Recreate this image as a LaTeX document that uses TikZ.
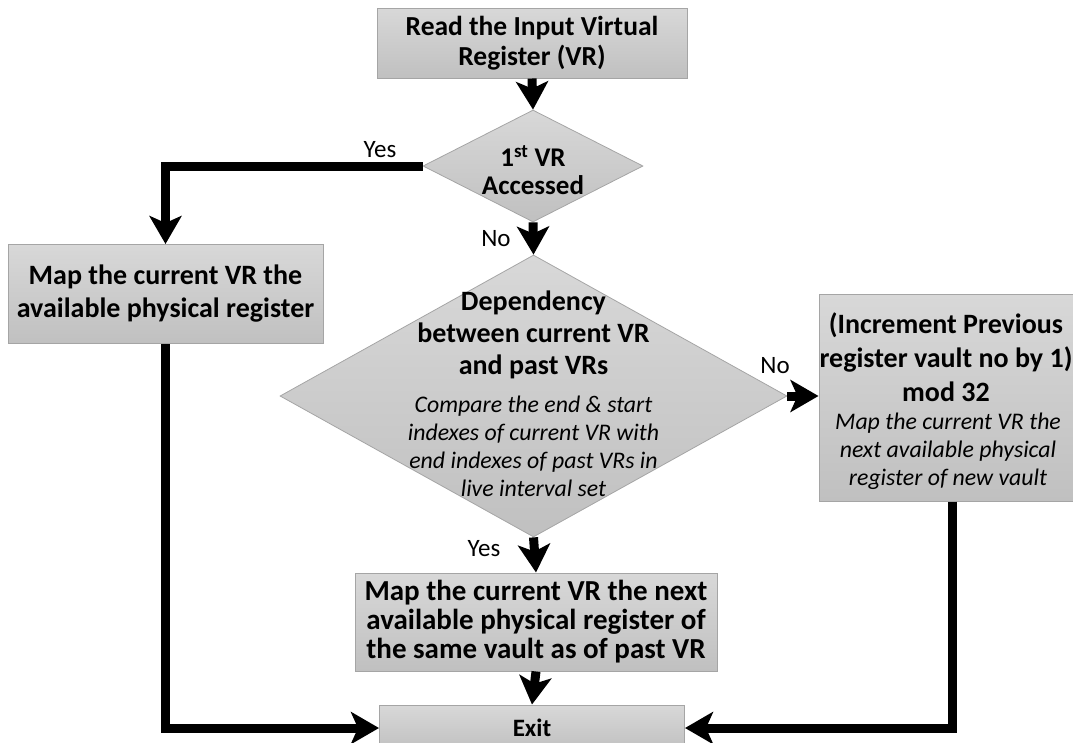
\documentclass[tikz,border=0pt]{standalone}
\usepackage{fontspec}
\setmainfont{Carlito}
\usetikzlibrary{arrows.meta,shapes.geometric}
\definecolor{boxtop}{RGB}{216,216,216}
\definecolor{boxbot}{RGB}{192,192,192}
\definecolor{boxline}{RGB}{165,165,165}
\tikzset{
  box/.style={rectangle, draw=boxline, line width=1pt, top color=boxtop, bottom color=boxbot,
    inner sep=0pt, align=center},
  dia/.style={diamond, draw=boxline, line width=0.8pt, top color=boxtop, bottom color=boxbot,
    inner sep=0pt, aspect=1},
  txt/.style={inner sep=0pt, align=center},
  lbl/.style={inner sep=0pt, font=\fontsize{25}{28}\selectfont},
  arr/.style={line width=9pt, -{Stealth[length=28pt,width=32pt,inset=7pt]}},
  bftop/.style={font=\fontsize{27.5}{30}\selectfont\bfseries},
  bfmid/.style={font=\fontsize{29}{29}\selectfont\bfseries},
  bfexit/.style={font=\fontsize{25}{29}\selectfont\bfseries},
  bfb/.style={font=\fontsize{28}{33}\selectfont\bfseries},
  bfdi/.style={font=\fontsize{27}{28}\selectfont\bfseries},
  bfc/.style={font=\fontsize{28}{32}\selectfont\bfseries},
  bfd/.style={font=\fontsize{28}{34}\selectfont\bfseries},
  itx/.style={font=\fontsize{23.8}{28}\selectfont\itshape},
}
\begin{document}
\begin{tikzpicture}[x=1pt,y=-1pt]
\useasboundingbox (0,0) rectangle (1073,742);
\clip (0,0) rectangle (1073,742);
% nodes
\node[box, bftop, minimum width=310pt, minimum height=70pt] (read) at (532,43)
  {Read the Input Virtual\\Register (VR)};
\node[dia, minimum width=220pt, minimum height=112pt] (d1) at (533,166) {};
\node[txt, bfdi] (d1t) at (533,170) {1\textsuperscript{st} VR\\Accessed};
\node[box, bfb, minimum width=315pt, minimum height=99pt] (left) at (165.5,294)
  {Map the current VR the\\available physical register};
\node[dia, minimum width=507pt, minimum height=282pt] (d2) at (533.5,396) {};
\node[txt, bfc] (d2b) at (533.5,335) {Dependency\\between current VR\\and past VRs};
\node[txt, itx] (d2i) at (533.5,446) {Compare the end \& start\\indexes of current VR with\\end indexes of past VRs in\\live interval set};
\node[box, minimum width=266pt, minimum height=207pt] (right) at (952,397.5) {};
\node[txt, bfd] (rb) at (946,357) {(Increment Previous\\register vault no by 1)\\mod 32};
\node[txt, itx] (ri) at (948,451) {Map the current VR the\\next available physical\\register of new vault};
\node[box, bfmid, minimum width=362pt, minimum height=98pt] (b3) at (536,622)
  {Map the current VR the next\\available physical register of\\the same vault as of past VR};
\node[box, bfexit, minimum width=305pt, minimum height=46pt] (exit) at (532,728) {Exit};
% labels
\node[lbl] (yes1) at (380,150) {Yes};
\node[lbl] (no1) at (496,239) {No};
\node[lbl] (no2) at (775,366) {No};
\node[lbl] (yes2) at (484,549) {Yes};
% connectors
\draw[arr] (read.south) -- (d1.north);
\draw[arr] (d1.west) -| (left.north);
\draw[arr] (d1.south) -- (d2.north);
\draw[arr] (d2.east) -- (d2.east -| right.west);
\draw[arr] (d2.south) -- (b3.north);
\draw[arr] (b3.south) -- (exit.north);
\draw[arr] (left.south) |- (exit.west);
\draw[arr] (right.south) |- (exit.east);
\end{tikzpicture}
\end{document}
